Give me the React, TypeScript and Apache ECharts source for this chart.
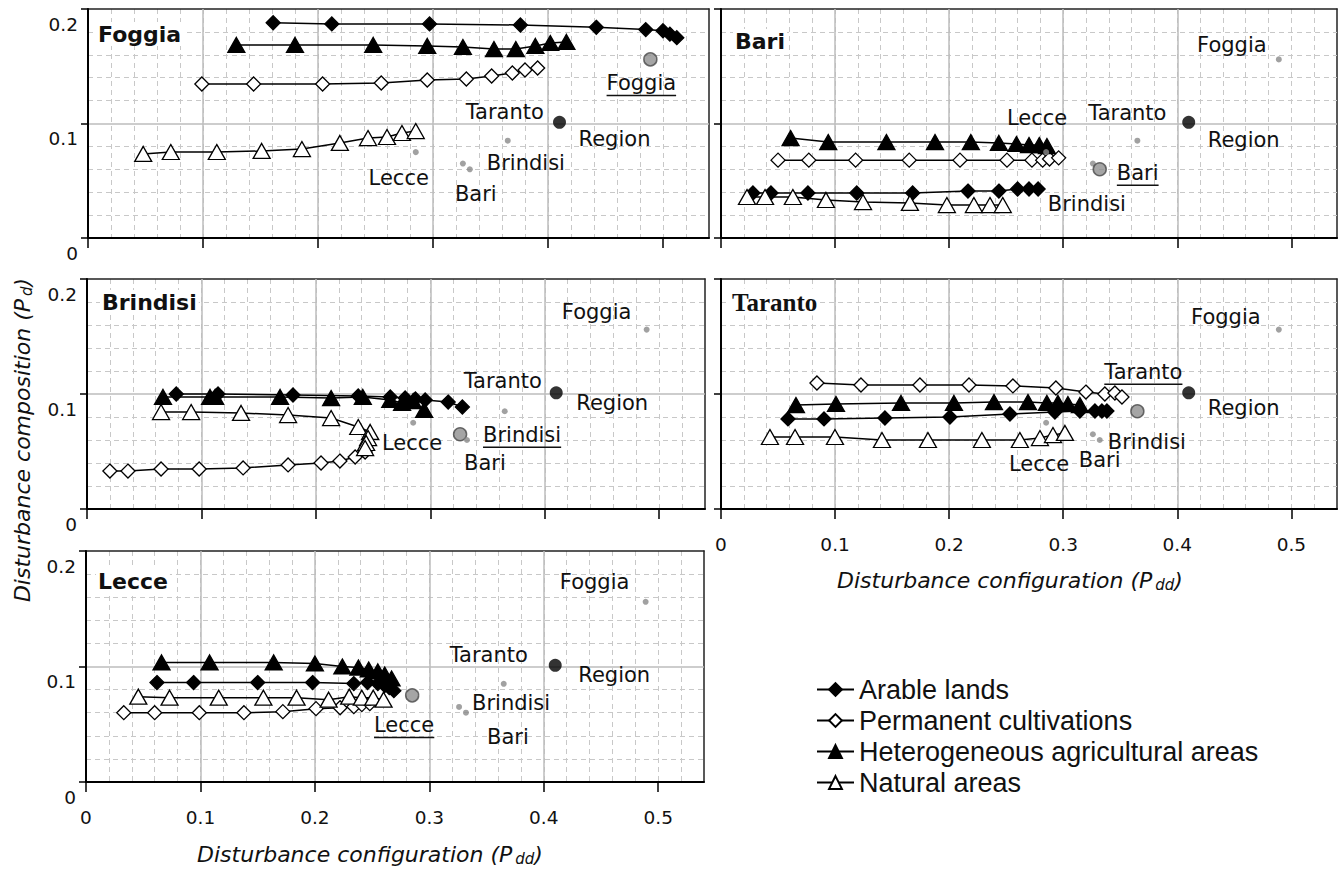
import React, { useEffect, useRef } from "react";
import * as echarts from "echarts";

// ---------------- data ----------------
const SERIES_NAMES = [
  "Arable lands",
  "Permanent cultivations",
  "Heterogeneous agricultural areas",
  "Natural areas",
];
const PANELS = ["Foggia", "Bari", "Brindisi", "Taranto", "Lecce"];

// Foggia
const foggiaArable = [[0.161, 0.188], [0.212, 0.187], [0.297, 0.187], [0.376, 0.186], [0.442, 0.184], [0.485, 0.182], [0.5, 0.181], [0.506, 0.178], [0.512, 0.175]];
const foggiaPerm = [[0.099, 0.1345], [0.144, 0.1345], [0.204, 0.1345], [0.255, 0.1354], [0.295, 0.138], [0.329, 0.1389], [0.351, 0.1415], [0.369, 0.1441], [0.38, 0.1467], [0.391, 0.1485]];
const foggiaHetero = [[0.129, 0.1686], [0.18, 0.1686], [0.248, 0.1686], [0.295, 0.1677], [0.326, 0.1668], [0.353, 0.165], [0.372, 0.165], [0.389, 0.1677], [0.402, 0.1703], [0.416, 0.1712]];
const foggiaNatural = [[0.048, 0.0734], [0.072, 0.0751], [0.112, 0.0751], [0.151, 0.076], [0.186, 0.0777], [0.219, 0.083], [0.2435, 0.0873], [0.26, 0.0882], [0.273, 0.0917], [0.285, 0.0934]];

// Bari
const bariArable = [[0.028, 0.0393], [0.0438, 0.0393], [0.0762, 0.0393], [0.119, 0.0393], [0.168, 0.0393], [0.2165, 0.041], [0.2436, 0.041], [0.26, 0.0428], [0.27, 0.0428], [0.278, 0.0428]];
const bariPerm = [[0.05, 0.068], [0.077, 0.068], [0.118, 0.068], [0.165, 0.068], [0.2095, 0.068], [0.2507, 0.068], [0.2726, 0.068], [0.282, 0.068], [0.288, 0.069], [0.296, 0.07]];
const bariHetero = [[0.061, 0.0873], [0.094, 0.0838], [0.145, 0.0838], [0.1876, 0.0838], [0.219, 0.0838], [0.2436, 0.083], [0.259, 0.0821], [0.27, 0.0812], [0.279, 0.0812], [0.2857, 0.0803]];
const bariNatural = [[0.0228, 0.0358], [0.0386, 0.0358], [0.063, 0.0358], [0.092, 0.0332], [0.1245, 0.0314], [0.1656, 0.0306], [0.198, 0.0288], [0.2217, 0.0288], [0.2358, 0.0288], [0.247, 0.0288]];

// Brindisi
const brindisiArable = [[0.078, 0.1], [0.1145, 0.1], [0.18, 0.0991], [0.237, 0.0983], [0.265, 0.0974], [0.278, 0.0965], [0.287, 0.0957], [0.2955, 0.0948], [0.3156, 0.093], [0.328, 0.0887]];
const brindisiPerm = [[0.02, 0.033], [0.0358, 0.033], [0.0647, 0.0348], [0.098, 0.0348], [0.1364, 0.0357], [0.1757, 0.0383], [0.2045, 0.04], [0.221, 0.0417], [0.2343, 0.0452], [0.243, 0.0496]];
const brindisiHetero = [[0.0664, 0.0974], [0.1075, 0.0974], [0.112, 0.0974], [0.1687, 0.0974], [0.2133, 0.0965], [0.241, 0.0974], [0.265, 0.0948], [0.2753, 0.0922], [0.285, 0.0939], [0.2946, 0.0861]];
const brindisiNatural = [[0.0647, 0.0843], [0.091, 0.0843], [0.1346, 0.0835], [0.1757, 0.0817], [0.2133, 0.0791], [0.237, 0.0713], [0.2474, 0.067], [0.2456, 0.0617], [0.2439, 0.0574], [0.243, 0.053]];

// Taranto
const tarantoArable = [[0.0587, 0.0783], [0.0903, 0.0783], [0.1437, 0.0791], [0.2007, 0.08], [0.2533, 0.0826], [0.2927, 0.0843], [0.3146, 0.0852], [0.3278, 0.0852], [0.3339, 0.0852], [0.3383, 0.0852]];
const tarantoPerm = [[0.0841, 0.1096], [0.1227, 0.1078], [0.1744, 0.1078], [0.2174, 0.1078], [0.2559, 0.107], [0.2936, 0.1052], [0.3199, 0.1017], [0.3365, 0.1], [0.3453, 0.1009], [0.3515, 0.0974]];
const tarantoHetero = [[0.0657, 0.0904], [0.1008, 0.0913], [0.1578, 0.0922], [0.2042, 0.0922], [0.2393, 0.093], [0.2691, 0.093], [0.2857, 0.0922], [0.2954, 0.0922], [0.3041, 0.0913], [0.3146, 0.0904]];
const tarantoNatural = [[0.0429, 0.0626], [0.0649, 0.0626], [0.0999, 0.0626], [0.1411, 0.06], [0.1814, 0.06], [0.2287, 0.06], [0.262, 0.06], [0.2796, 0.0617], [0.291, 0.0643], [0.3015, 0.0661]];

// Lecce
const lecceArable = [[0.062, 0.0861], [0.094, 0.0861], [0.15, 0.0861], [0.198, 0.0861], [0.234, 0.0852], [0.246, 0.0861], [0.255, 0.0852], [0.261, 0.0835], [0.265, 0.0817], [0.269, 0.0791]];
const leccePerm = [[0.033, 0.06], [0.06, 0.06], [0.099, 0.06], [0.138, 0.06], [0.172, 0.0609], [0.201, 0.0635], [0.222, 0.0643], [0.234, 0.0652], [0.241, 0.067], [0.248, 0.0678]];
const lecceHetero = [[0.066, 0.1035], [0.108, 0.1035], [0.164, 0.1035], [0.2, 0.1026], [0.224, 0.1], [0.238, 0.0991], [0.247, 0.0974], [0.255, 0.0957], [0.261, 0.093], [0.267, 0.0896]];
const lecceNatural = [[0.0457, 0.0739], [0.073, 0.073], [0.116, 0.073], [0.155, 0.073], [0.184, 0.073], [0.212, 0.0713], [0.23, 0.0739], [0.241, 0.073], [0.251, 0.073], [0.26, 0.0713]];

const PANEL_DATA: Record<string, number[][][]> = {
  Foggia: [foggiaArable, foggiaPerm, foggiaHetero, foggiaNatural],
  Bari: [bariArable, bariPerm, bariHetero, bariNatural],
  Brindisi: [brindisiArable, brindisiPerm, brindisiHetero, brindisiNatural],
  Taranto: [tarantoArable, tarantoPerm, tarantoHetero, tarantoNatural],
  Lecce: [lecceArable, leccePerm, lecceHetero, lecceNatural],
};

// reference (whole-province) points, same in every panel
const REF_NAMES = ["Foggia", "Region", "Taranto", "Lecce", "Brindisi", "Bari"];
const REF_X = [0.489, 0.41, 0.365, 0.285, 0.326, 0.332];
const REF_Y = [0.156, 0.101, 0.085, 0.075, 0.065, 0.06];

const X_TICKS = [0, 0.1, 0.2, 0.3, 0.4, 0.5];
const Y_TICKS = [0, 0.1, 0.2];
const X_MAX = 0.54;
const Y_MAX = 0.2;

// ---------------- layout / styles ----------------
const FONT = "'DejaVu Sans', Verdana, sans-serif";
const LEGEND_FONT = "'Liberation Sans', Arial, sans-serif";
const INK = "#111111";

const GRIDS = [
  { left: 88, top: 9, width: 621, height: 229, yLabels: true, xLabels: false },
  { left: 721, top: 9, width: 616, height: 229, yLabels: false, xLabels: false },
  { left: 87, top: 279, width: 618, height: 230, yLabels: true, xLabels: false },
  { left: 721, top: 279, width: 616, height: 230, yLabels: false, xLabels: true },
  { left: 86, top: 551, width: 618, height: 231, yLabels: true, xLabels: true },
];

const TITLES = [
  { x: 96, y: 34, family: FONT, size: 22 },
  { x: 733, y: 41, family: FONT, size: 22 },
  { x: 100, y: 302, family: FONT, size: 22 },
  { x: 730, y: 302, family: "'Liberation Serif', 'Times New Roman', serif", size: 25 },
  { x: 96, y: 581, family: FONT, size: 22 },
];

// label offsets (px) of each reference label relative to its dot, per panel
const LABEL_OFFSETS: Record<string, Record<string, number[]>> = {
  Foggia: { Foggia: [-9, 24], Region: [55, 17], Taranto: [-3, -29], Lecce: [-17, 26], Brindisi: [63, -1], Bari: [6, 25] },
  Bari: { Foggia: [-47, -14], Region: [55, 18], Taranto: [-10, -28], Lecce: [-9, -34], Brindisi: [-6, 40], Bari: [38, 4] },
  Brindisi: { Foggia: [-50, -18], Region: [56, 10], Taranto: [-2, -30], Lecce: [-1, 20], Brindisi: [62, 1], Bari: [18, 23] },
  Taranto: { Foggia: [-53, -13], Region: [55, 15], Taranto: [6, -39], Lecce: [-7, 41], Brindisi: [54, 8], Bari: [0, 20] },
  Lecce: { Foggia: [-51, -20], Region: [59, 10], Taranto: [-15, -29], Lecce: [-8, 30], Brindisi: [52, -4], Bari: [42, 24] },
};

const SERIES_STYLE = [
  { symbol: "diamond", size: 14, fill: "#000000" },
  { symbol: "diamond", size: 14, fill: "#ffffff" },
  { symbol: "triangle", size: [17, 15], fill: "#000000" },
  { symbol: "triangle", size: [17, 15], fill: "#ffffff" },
];

const LABEL_SIZE = 21;

let measureCtx: CanvasRenderingContext2D | null = null;
function textWidth(t: string, font: string): number {
  if (!measureCtx) measureCtx = document.createElement("canvas").getContext("2d");
  if (!measureCtx) return t.length * 12;
  measureCtx.font = font;
  return measureCtx.measureText(t).width;
}

function makeLabelRenderer(panel: string) {
  const offsets = LABEL_OFFSETS[panel];
  return (params: any, api: any) => {
    const i = api.value(2);
    const name = REF_NAMES[i];
    const p = api.coord([api.value(0), api.value(1)]);
    const off = offsets[name];
    const cx = p[0] + off[0];
    const cy = p[1] + off[1];
    const children: any[] = [
      {
        type: "text",
        style: {
          text: name,
          x: cx,
          y: cy,
          align: "center",
          verticalAlign: "middle",
          fontSize: LABEL_SIZE,
          fontFamily: FONT,
          fill: INK,
        },
      },
    ];
    if (name === panel) {
      const w = textWidth(name, `${LABEL_SIZE}px 'DejaVu Sans'`);
      children.push({
        type: "line",
        shape: { x1: cx - w / 2, y1: cy + 12, x2: cx + w / 2, y2: cy + 12 },
        style: { stroke: INK, lineWidth: 1.5 },
      });
    }
    return { type: "group", children };
  };
}

function buildOption() {
  const grid = GRIDS.map((g) => ({ left: g.left, top: g.top, width: g.width, height: g.height, show: false }));
  const xAxis: any[] = [];
  const yAxis: any[] = [];
  const majorGrid = { color: "#bcbcbc", width: 1.5 };
  const minorGrid = { color: "#c8c8c8", width: 1, type: [5, 4] };

  GRIDS.forEach((g, k) => {
    xAxis.push({
      type: "value", gridIndex: k, min: 0, max: X_MAX, interval: 0.1, position: "bottom", z: 1,
      axisLine: { show: true, onZero: false, lineStyle: { color: "#000", width: 2 } },
      axisTick: { show: true, inside: false, length: 10, customValues: X_TICKS, lineStyle: { color: "#000", width: 1.5 } },
      axisLabel: {
        show: g.xLabels, customValues: X_TICKS, margin: 26, verticalAlign: "top",
        fontSize: 18.5, fontFamily: FONT, color: INK,
      },
      splitLine: { show: true, showMinLine: false, showMaxLine: false, lineStyle: majorGrid },
    });
    xAxis.push({
      type: "value", gridIndex: k, min: 0, max: X_MAX, interval: 0.02, position: "top", z: 0,
      axisLine: { show: true, onZero: false, lineStyle: { color: "#222", width: 1.5 } },
      axisTick: { show: false }, axisLabel: { show: false },
      splitLine: { show: true, showMinLine: false, showMaxLine: false, lineStyle: minorGrid },
    });
    yAxis.push({
      type: "value", gridIndex: k, min: 0, max: Y_MAX, interval: 0.1, position: "left", z: 1,
      axisLine: { show: true, onZero: false, lineStyle: { color: "#000", width: 2 } },
      axisTick: { show: true, length: 7, customValues: Y_TICKS, lineStyle: { color: "#000", width: 1.5 } },
      axisLabel: {
        show: g.yLabels, customValues: Y_TICKS, margin: 10, verticalAlign: "top", lineHeight: 30,
        fontSize: 18.5, fontFamily: FONT, color: INK,
      },
      splitLine: { show: true, showMinLine: false, showMaxLine: false, lineStyle: majorGrid },
      minorTick: { show: false, splitNumber: 5 },
      minorSplitLine: { show: true, lineStyle: minorGrid },
    });
    yAxis.push({
      type: "value", gridIndex: k, min: 0, max: Y_MAX, interval: 0.1, position: "right", z: 0,
      axisLine: { show: true, onZero: false, lineStyle: { color: "#222", width: 1.5 } },
      axisTick: { show: false }, axisLabel: { show: false }, splitLine: { show: false },
    });
  });

  const series: any[] = [];
  PANELS.forEach((panel, k) => {
    PANEL_DATA[panel].forEach((pts, s) => {
      const st = SERIES_STYLE[s];
      series.push({
        type: "line", name: SERIES_NAMES[s], xAxisIndex: 2 * k, yAxisIndex: 2 * k,
        data: pts, symbol: st.symbol, symbolSize: st.size, showAllSymbol: true,
        lineStyle: { color: "#000", width: 1.5 },
        itemStyle: { color: st.fill, borderColor: "#000", borderWidth: 1.3 },
        emphasis: { disabled: true }, silent: true, z: 3,
      });
    });
    series.push({
      type: "scatter", name: "ref-" + panel, xAxisIndex: 2 * k, yAxisIndex: 2 * k, z: 4, silent: true,
      data: REF_X.map((x, i) => {
        const nm = REF_NAMES[i];
        if (nm === "Region") return { value: [x, REF_Y[i]], symbolSize: 13, itemStyle: { color: "#000" } };
        if (nm === panel)
          return { value: [x, REF_Y[i]], symbolSize: 13, itemStyle: { color: "#8e8e8e", borderColor: "#4a4a4a", borderWidth: 1.5 } };
        return { value: [x, REF_Y[i]], symbolSize: 6, itemStyle: { color: "#8a8a8a" } };
      }),
    });
    series.push({
      type: "custom", name: "lab-" + panel, xAxisIndex: 2 * k, yAxisIndex: 2 * k, z: 5, silent: true, clip: false,
      data: REF_X.map((x, i) => [x, REF_Y[i], i]),
      renderItem: makeLabelRenderer(panel),
    });
  });

  const titleRich = {
    a: { fontSize: 22, fontStyle: "italic", fontFamily: FONT, fill: INK, lineHeight: 24 },
    b: { fontSize: 15, fontStyle: "italic", fontFamily: FONT, fill: INK, verticalAlign: "bottom", padding: [0, 0, 0, 3] },
  };

  const graphic: any[] = [
    ...PANELS.map((p, k) => ({
      type: "text", x: TITLES[k].x, y: TITLES[k].y, silent: true, z: 20,
      style: {
        text: p, fontSize: TITLES[k].size, fontWeight: "bold", fontFamily: TITLES[k].family,
        fill: INK, stroke: "none", lineWidth: 0, verticalAlign: "middle",
        backgroundColor: "#ffffff", padding: [1, 2, 1, 2],
      },
    })),
    {
      type: "text", x: 370, y: 854, silent: true, z: 20,
      style: { text: "{a|Disturbance configuration (P}{b|dd}{a|)}", rich: titleRich, align: "center", verticalAlign: "middle" },
    },
    {
      type: "text", x: 1010, y: 580, silent: true, z: 20,
      style: { text: "{a|Disturbance configuration (P}{b|dd}{a|)}", rich: titleRich, align: "center", verticalAlign: "middle" },
    },
    {
      type: "text", x: 22, y: 440, rotation: Math.PI / 2, silent: true, z: 20,
      style: { text: "{a|Disturbance composition (P}{b|d}{a|)}", rich: titleRich, align: "center", verticalAlign: "middle" },
    },
  ];

  return {
    animation: false,
    backgroundColor: "#ffffff",
    textStyle: { fontFamily: FONT },
    grid,
    xAxis,
    yAxis,
    series,
    graphic,
    legend: {
      data: SERIES_NAMES, orient: "vertical", left: 816, top: 676,
      itemWidth: 37, itemHeight: 16, itemGap: 4, selectedMode: false, padding: 0,
      textStyle: { fontSize: 27, fontFamily: LEGEND_FONT, color: INK },
    },
  };
}

export default function App() {
  const ref = useRef<HTMLDivElement>(null);
  useEffect(() => {
    if (!ref.current) return;
    const chart = echarts.init(ref.current, null, { renderer: "svg" });
    chart.setOption(buildOption() as any);
    return () => chart.dispose();
  }, []);
  return (
    <div
      ref={ref}
      style={{ position: "fixed", left: 0, top: 0, width: 1339, height: 870, background: "#fff" }}
    />
  );
}
